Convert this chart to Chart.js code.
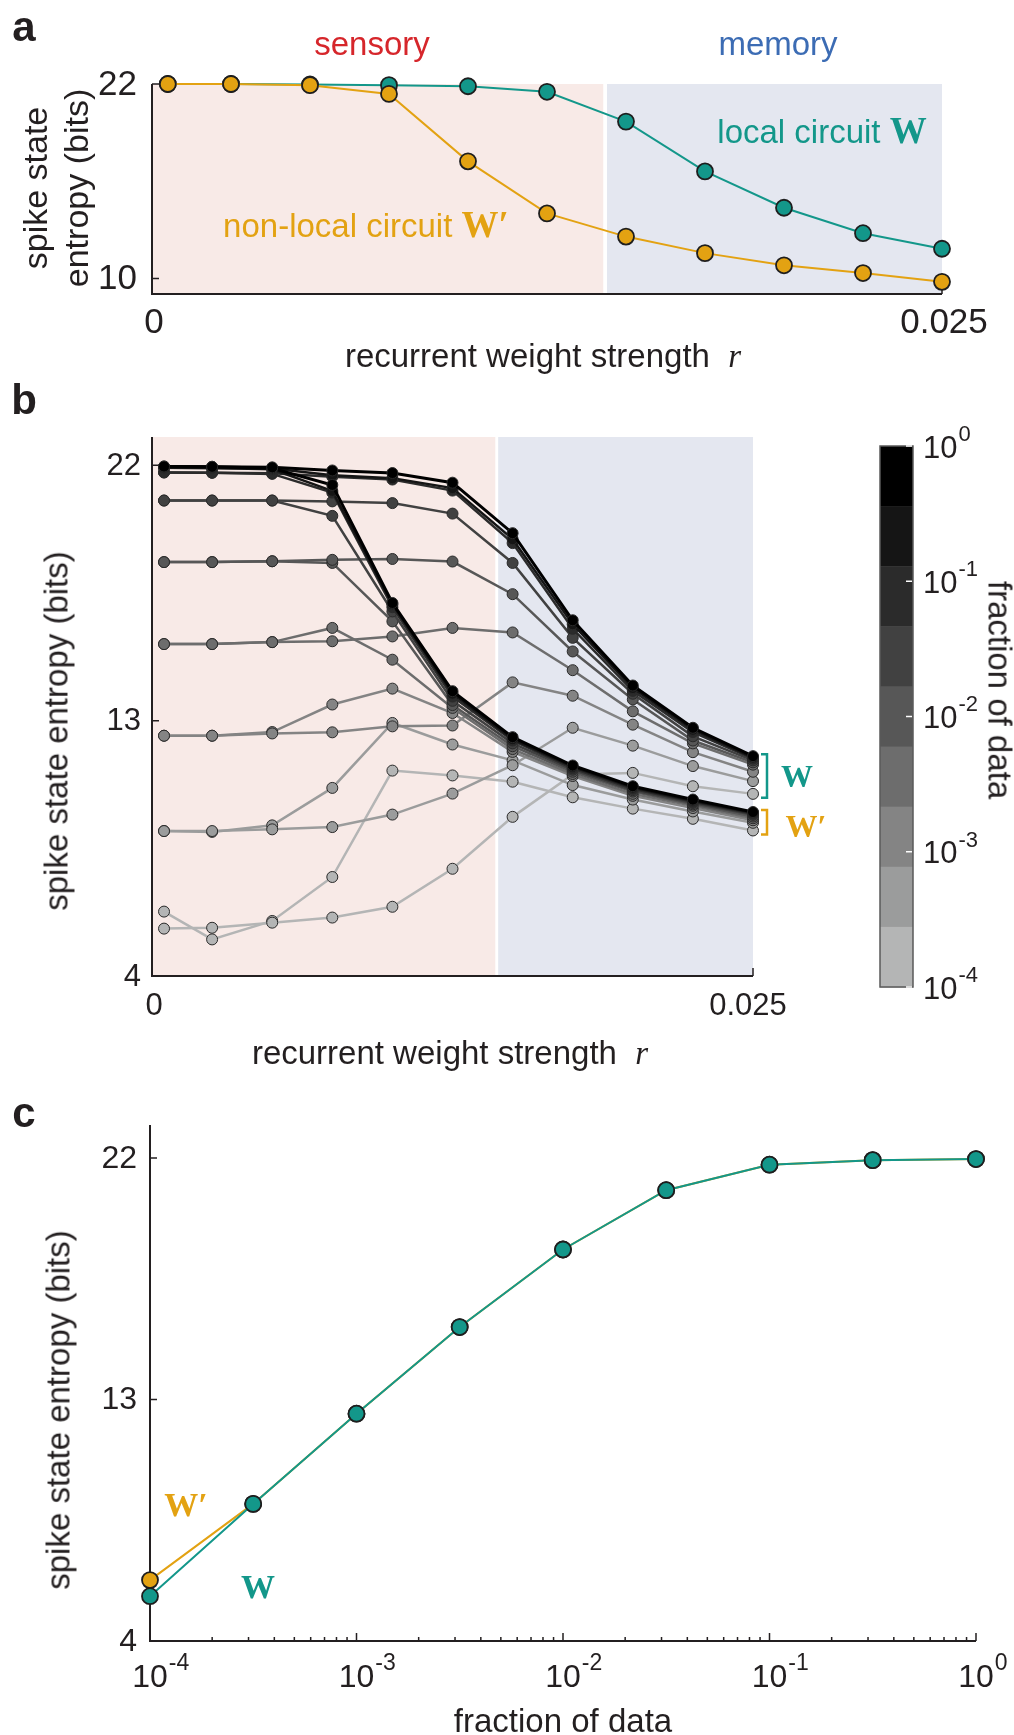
<!DOCTYPE html>
<html>
<head>
<meta charset="utf-8">
<title>spike state entropy</title>
<script src="https://cdn.jsdelivr.net/npm/chart.js@4.4.1/dist/chart.umd.min.js"></script>
<style>
  html, body { margin: 0; padding: 0; background: #fff; }
  #page { position: relative; width: 1014px; height: 1735px; overflow: hidden;
          font-family: "Liberation Sans", Arial, sans-serif; color: #231f20; }
  canvas { position: absolute; left: 0; }
  .c { position: absolute; transform: translate(-50%, -50%); white-space: nowrap; line-height: 1; }
  .rot { transform: translate(-50%, -50%) rotate(-90deg); text-align: center; }
  .panel { font-weight: bold; font-size: 42px; }
  .t { font-size: 33px; }
  .bw { font-family: "Liberation Serif", "Times New Roman", serif; font-weight: bold; }
  .it { font-family: "Liberation Serif", "Times New Roman", serif; font-style: italic; }
</style>
</head>
<body>
<div id="page">
  <canvas id="chartA" width="1014" height="380" style="top:0"></canvas>
  <canvas id="chartB" width="1014" height="700" style="top:380px"></canvas>
  <canvas id="chartC" width="1014" height="655" style="top:1080px"></canvas>

  <!-- panel a -->
  <div class="c panel" style="left:24px;top:27px">a</div>
  <div class="c t" style="left:372px;top:43px;color:#d6262b">sensory</div>
  <div class="c t" style="left:778px;top:43px;color:#3c6cb4">memory</div>
  <div class="c t" style="left:822px;top:130px;color:#13978a">local circuit <span class="bw" style="font-size:37px">W</span></div>
  <div class="c t" style="left:366px;top:224px;color:#e3a212">non-local circuit <span class="bw" style="font-size:37px">W&#8242;</span></div>
  <div class="c rot" style="left:56px;top:188px;font-size:34px;line-height:41px">spike state<br>entropy (bits)</div>
  <div class="c t" style="left:543px;top:356px">recurrent weight strength&nbsp;&nbsp;<span class="it">r</span></div>

  <!-- panel b -->
  <div class="c panel" style="left:24px;top:400px">b</div>
  <div class="c t rot" style="left:56px;top:731px">spike state entropy (bits)</div>
  <div class="c t" style="left:450px;top:1053px">recurrent weight strength&nbsp;&nbsp;<span class="it">r</span></div>
  <div class="c bw" style="left:797px;top:776px;font-size:32px;color:#13978a">W</div>
  <div class="c bw" style="left:806px;top:826px;font-size:32px;color:#e3a212">W&#8242;</div>
  <div class="c t" style="left:1000px;top:690px;transform:translate(-50%,-50%) rotate(90deg)">fraction of data</div>

  <!-- panel c -->
  <div class="c panel" style="left:24px;top:1113px">c</div>
  <div class="c t rot" style="left:58px;top:1410px">spike state entropy (bits)</div>
  <div class="c t" style="left:563px;top:1720px">fraction of data</div>
  <div class="c bw" style="left:186px;top:1505px;font-size:34px;color:#e3a212">W&#8242;</div>
  <div class="c bw" style="left:258px;top:1587px;font-size:34px;color:#13978a">W</div>
</div>

<script>
// recurrent weight strength r (same 11 values in panels a and b)
const rValues = [0.0005, 0.0025, 0.005, 0.0075, 0.01, 0.0125, 0.015, 0.0175, 0.02, 0.0225, 0.025];

// panel a: full data
const entropyLocalA    = [22.0, 22.0, 21.97, 21.93, 21.86, 21.52, 19.68, 16.61, 14.37, 12.80, 11.84];
const entropyNonlocalA = [22.0, 22.0, 21.93, 21.39, 17.23, 14.02, 12.59, 11.57, 10.82, 10.34, 9.80];

// panel b: one row per fraction of data, 10^0 down to 10^-4 in half decades
const fractionExponents = [0, -0.5, -1, -1.5, -2, -2.5, -3, -3.5, -4];
const levelGreys = ['#000000', '#151515', '#2b2b2b', '#414141', '#575757', '#6d6d6d', '#848484', '#9b9c9c', '#b4b5b5'];

const localByFraction = [
  [21.96, 21.95, 21.93, 21.82, 21.73, 21.39, 19.61, 16.54, 14.24, 12.75, 11.75],
  [21.92, 21.91, 21.89, 21.65, 21.55, 21.20, 19.40, 16.40, 14.15, 12.68, 11.70],
  [21.75, 21.74, 21.72, 21.60, 21.50, 21.11, 19.26, 16.24, 14.05, 12.60, 11.66],
  [20.76, 20.76, 20.76, 20.73, 20.67, 20.30, 18.56, 15.92, 13.95, 12.45, 11.60],
  [18.59, 18.59, 18.62, 18.67, 18.70, 18.61, 17.46, 15.44, 13.75, 12.30, 11.53],
  [15.70, 15.70, 15.77, 15.80, 15.97, 16.27, 16.11, 14.78, 13.33, 12.20, 11.45],
  [12.47, 12.47, 12.55, 12.59, 12.80, 12.83, 14.35, 13.88, 12.86, 11.89, 11.20],
  [9.11, 9.11, 9.17, 9.25, 9.69, 10.43, 11.43, 12.75, 12.12, 11.40, 10.87],
  [5.67, 5.70, 5.88, 6.06, 6.44, 7.78, 9.61, 11.10, 11.16, 10.69, 10.42]
];

const nonlocalByFraction = [
  [21.96, 21.95, 21.90, 21.31, 17.15, 14.04, 12.42, 11.42, 10.69, 10.22, 9.78],
  [21.92, 21.91, 21.86, 21.10, 17.10, 13.95, 12.35, 11.37, 10.64, 10.18, 9.75],
  [21.75, 21.74, 21.70, 21.04, 17.00, 13.85, 12.30, 11.32, 10.60, 10.14, 9.72],
  [20.76, 20.76, 20.76, 20.22, 16.85, 13.70, 12.20, 11.27, 10.55, 10.10, 9.68],
  [18.59, 18.59, 18.62, 18.56, 16.50, 13.55, 12.10, 11.20, 10.50, 10.05, 9.62],
  [15.70, 15.70, 15.77, 16.27, 15.15, 13.45, 12.00, 11.12, 10.42, 10.00, 9.56],
  [12.47, 12.47, 12.60, 13.57, 14.13, 13.27, 11.90, 11.05, 10.35, 9.92, 9.49],
  [9.11, 9.08, 9.31, 10.63, 12.92, 12.16, 11.60, 10.73, 10.22, 9.80, 9.40],
  [6.27, 5.29, 5.94, 7.49, 11.24, 11.07, 10.85, 10.30, 9.90, 9.54, 9.13]
];

// panel c: entropy at the smallest r against fraction of data
const fractionOfData    = [0.0001, 0.000316, 0.001, 0.00316, 0.01, 0.0316, 0.1, 0.316, 1];
const entropyLocalC     = [5.67, 9.11, 12.47, 15.70, 18.59, 20.80, 21.75, 21.92, 21.96];
const entropyNonlocalC  = [6.27, 9.11, 12.47, 15.70, 18.59, 20.80, 21.75, 21.92, 21.96];

// tick values
const ticksAx = [0, 0.025];
const ticksAy = [10, 22];
const ticksBy = [4, 13, 22];
const ticksCy = [4, 13, 22];
const decadesC = [-4, -3, -2, -1, 0];
const colorbarDecades = [0, -1, -2, -3, -4];

// shaded regimes along r
const sensoryRange = [0, 0.01428];
const memoryRange  = [0.0144, 0.025];

const TEAL = '#13978a';
const ORANGE = '#e3a212';
const INK = '#231f20';
const SANS = '"Liberation Sans", Arial, sans-serif';
const SHADE_SENSORY = '#f8eae7';
const SHADE_MEMORY = '#e4e7f0';

function pts(xs, ys) {
  return xs.map((x, i) => ({ x: x, y: ys[i] }));
}

// "10" with a raised exponent, "10" centred on cx (or left-aligned at cx)
function drawPow(ctx, exp, cx, cy, size, alignLeft) {
  ctx.font = size + 'px ' + SANS;
  const wb = ctx.measureText('10').width;
  const x0 = alignLeft ? cx : cx - wb / 2;
  ctx.textAlign = 'left';
  ctx.textBaseline = 'middle';
  ctx.fillText('10', x0, cy);
  ctx.font = Math.round(size * 0.72) + 'px ' + SANS;
  ctx.fillText(String(exp), x0 + wb + 1, cy - size * 0.46);
}

// shading, axes, ticks and tick labels
const framePlugin = {
  id: 'frame',
  beforeDatasetsDraw(chart, args, o) {
    const { ctx, chartArea: a, scales: { x, y } } = chart;
    ctx.save();
    (o.regions || []).forEach(r => {
      const x0 = x.getPixelForValue(r.from);
      const x1 = x.getPixelForValue(r.to);
      ctx.fillStyle = r.color;
      ctx.fillRect(x0, a.top, x1 - x0, a.bottom - a.top);
    });

    ctx.strokeStyle = INK;
    ctx.lineWidth = 2;
    ctx.beginPath();
    ctx.moveTo(a.left, a.top);
    ctx.lineTo(a.left, a.bottom);
    ctx.lineTo(a.right, a.bottom);
    ctx.stroke();

    ctx.lineWidth = 1.5;
    ctx.beginPath();
    o.yTicks.forEach(v => {
      const py = y.getPixelForValue(v);
      ctx.moveTo(a.left, py); ctx.lineTo(a.left + 7, py);
    });
    o.xTicks.forEach(v => {
      const px = x.getPixelForValue(v);
      ctx.moveTo(px, a.bottom); ctx.lineTo(px, a.bottom - 8);
    });
    (o.xMinor || []).forEach(v => {
      const px = x.getPixelForValue(v);
      ctx.moveTo(px, a.bottom); ctx.lineTo(px, a.bottom - 4);
    });
    ctx.stroke();

    ctx.fillStyle = INK;
    ctx.font = o.fontSize + 'px ' + SANS;
    ctx.textAlign = 'right';
    ctx.textBaseline = 'middle';
    o.yTicks.forEach(v => ctx.fillText(String(v), a.left - o.yGap, y.getPixelForValue(v) + 1));

    o.xTicks.forEach((v, i) => {
      const px = x.getPixelForValue(v);
      if (o.xPow) {
        drawPow(ctx, o.xPow[i], px, a.bottom + o.xGap, o.fontSize, false);
      } else {
        ctx.font = o.fontSize + 'px ' + SANS;
        ctx.textAlign = 'center';
        ctx.fillText(o.xLabels[i], px + (o.xShift ? o.xShift[i] : 0), a.bottom + o.xGap);
      }
    });
    ctx.restore();
  }
};

// greyscale colour bar and the W / W' brackets of panel b
const colorbarPlugin = {
  id: 'colorbar',
  afterDraw(chart, args, o) {
    const { ctx, chartArea: a, scales: { y } } = chart;
    ctx.save();
    const n = levelGreys.length;
    const h = o.height / n;
    levelGreys.forEach((c, i) => {
      ctx.fillStyle = c;
      ctx.fillRect(o.left, o.top + i * h, o.width, h + 0.5);
    });
    ctx.strokeStyle = '#5a5a5a';
    ctx.lineWidth = 1.5;
    ctx.strokeRect(o.left, o.top, o.width, o.height);

    const lo = fractionExponents[fractionExponents.length - 1];
    const hi = fractionExponents[0];
    ctx.strokeStyle = '#ffffff';
    ctx.fillStyle = INK;
    colorbarDecades.forEach(e => {
      const py = o.top + (hi - e) / (hi - lo) * o.height;
      ctx.beginPath();
      ctx.moveTo(o.left + o.width - 7, py);
      ctx.lineTo(o.left + o.width - 1, py);
      ctx.stroke();
      drawPow(ctx, e, o.left + o.width + 10, py + 3, 31, true);
    });

    // brackets spanning the end values of each circuit
    ctx.lineWidth = 2.5;
    o.brackets.forEach(b => {
      const top = y.getPixelForValue(Math.max.apply(null, b.values)) - 2;
      const bot = y.getPixelForValue(Math.min.apply(null, b.values)) + 4;
      const bx = a.right + 14;
      ctx.strokeStyle = b.color;
      ctx.beginPath();
      ctx.moveTo(bx - 6, top); ctx.lineTo(bx, top); ctx.lineTo(bx, bot); ctx.lineTo(bx - 6, bot);
      ctx.stroke();
    });
    ctx.restore();
  }
};

Chart.register(framePlugin, colorbarPlugin);

const hiddenAxis = { display: false };

// ---------- panel a ----------
new Chart(document.getElementById('chartA'), {
  type: 'line',
  data: {
    datasets: [
      {
        label: "W'",
        data: pts(rValues, entropyNonlocalA),
        borderColor: ORANGE, borderWidth: 2,
        pointBackgroundColor: ORANGE, pointBorderColor: '#1e1e1e', pointBorderWidth: 1.8, pointRadius: 8,
        tension: 0, clip: false
      },
      {
        label: 'W',
        data: pts(rValues, entropyLocalA),
        borderColor: TEAL, borderWidth: 2,
        pointBackgroundColor: TEAL, pointBorderColor: '#1e1e1e', pointBorderWidth: 1.8, pointRadius: 8,
        tension: 0, clip: false
      }
    ]
  },
  options: {
    responsive: false, animation: false, devicePixelRatio: 1,
    layout: { autoPadding: false, padding: { left: 152, top: 84, right: 72, bottom: 86 } },
    scales: {
      x: Object.assign({ type: 'linear', min: 0, max: 0.025 }, hiddenAxis),
      y: Object.assign({ type: 'linear', min: 9.05, max: 22 }, hiddenAxis)
    },
    plugins: {
      legend: { display: false }, tooltip: { enabled: false },
      colorbar: false,
      frame: {
        regions: [
          { from: sensoryRange[0], to: sensoryRange[1], color: SHADE_SENSORY },
          { from: memoryRange[0], to: memoryRange[1], color: SHADE_MEMORY }
        ],
        yTicks: ticksAy, xTicks: ticksAx, xLabels: ['0', '0.025'], xShift: [2, 2],
        fontSize: 35, yGap: 15, xGap: 29
      }
    }
  }
});

// ---------- panel b ----------
const datasetsB = [];
fractionExponents.forEach((e, k) => {
  const common = {
    borderColor: levelGreys[k], borderWidth: k === 0 ? 3 : 2.5,
    pointBackgroundColor: levelGreys[k], pointBorderColor: '#2a2a2a', pointBorderWidth: 1, pointRadius: 5.5,
    tension: 0, clip: false
  };
  datasetsB.push(Object.assign({ label: 'W 10^' + e, data: pts(rValues, localByFraction[k]) }, common));
  datasetsB.push(Object.assign({ label: "W' 10^" + e, data: pts(rValues, nonlocalByFraction[k]) }, common));
});

new Chart(document.getElementById('chartB'), {
  type: 'line',
  data: { datasets: datasetsB },
  options: {
    responsive: false, animation: false, devicePixelRatio: 1,
    layout: { autoPadding: false, padding: { left: 152, top: 57, right: 261, bottom: 104 } },
    scales: {
      x: Object.assign({ type: 'linear', min: 0, max: 0.025 }, hiddenAxis),
      y: Object.assign({ type: 'linear', min: 4, max: 23 }, hiddenAxis)
    },
    plugins: {
      legend: { display: false }, tooltip: { enabled: false },
      frame: {
        regions: [
          { from: sensoryRange[0], to: sensoryRange[1], color: SHADE_SENSORY },
          { from: memoryRange[0], to: memoryRange[1], color: SHADE_MEMORY }
        ],
        yTicks: ticksBy, xTicks: ticksAx, xLabels: ['0', '0.025'], xShift: [2, -5],
        fontSize: 31, yGap: 11, xGap: 30
      },
      colorbar: {
        left: 880, top: 66, width: 33, height: 541,
        brackets: [
          { values: localByFraction.map(r => r[r.length - 1]), color: TEAL },
          { values: nonlocalByFraction.map(r => r[r.length - 1]), color: ORANGE }
        ]
      }
    }
  }
});

// ---------- panel c ----------
const minorC = [];
decadesC.slice(0, -1).forEach(d => {
  [2, 3, 4, 5, 6, 7, 8, 9].forEach(m => minorC.push(m * Math.pow(10, d)));
});

new Chart(document.getElementById('chartC'), {
  type: 'line',
  data: {
    datasets: [
      {
        label: 'W',
        data: pts(fractionOfData, entropyLocalC),
        borderColor: TEAL, borderWidth: 2,
        pointBackgroundColor: TEAL, pointBorderColor: '#1e1e1e', pointBorderWidth: 1.8, pointRadius: 8,
        tension: 0, clip: false
      },
      {
        label: "W'",
        data: pts(fractionOfData, entropyNonlocalC),
        borderColor: ORANGE, borderWidth: 2,
        pointBackgroundColor: ORANGE, pointBorderColor: '#1e1e1e', pointBorderWidth: 1.8, pointRadius: 8,
        tension: 0, clip: false
      }
    ]
  },
  options: {
    responsive: false, animation: false, devicePixelRatio: 1,
    layout: { autoPadding: false, padding: { left: 150, top: 45, right: 38, bottom: 94 } },
    scales: {
      x: Object.assign({ type: 'logarithmic', min: 0.0001, max: 1 }, hiddenAxis),
      y: Object.assign({ type: 'linear', min: 4, max: 23.23 }, hiddenAxis)
    },
    plugins: {
      legend: { display: false }, tooltip: { enabled: false },
      colorbar: false,
      frame: {
        yTicks: ticksCy,
        xTicks: decadesC.map(d => Math.pow(10, d)), xPow: decadesC,
        xMinor: minorC,
        fontSize: 32, yGap: 13, xGap: 37
      }
    }
  }
});
</script>
</body>
</html>
